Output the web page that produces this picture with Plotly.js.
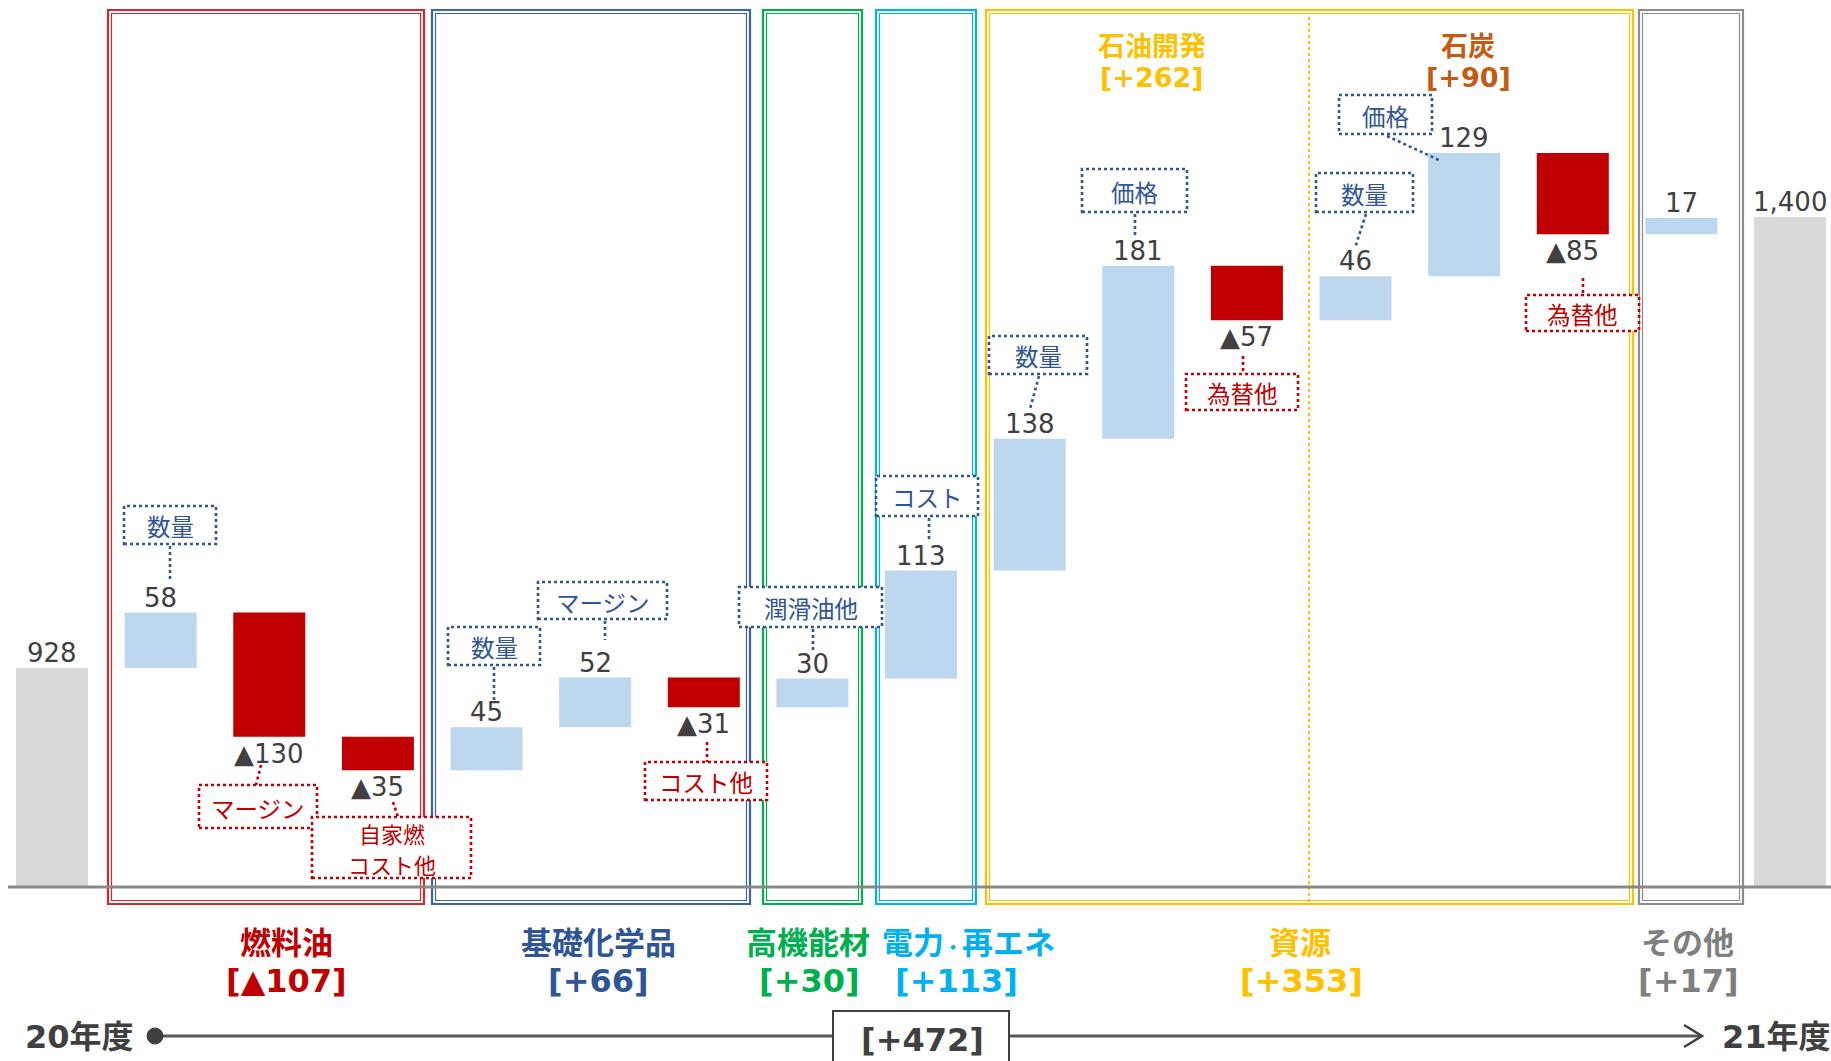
<!DOCTYPE html>
<html><head><meta charset="utf-8">
<script src="https://cdn.plot.ly/plotly-3.0.1.min.js"></script>
<style>html,body{margin:0;padding:0;background:#fff;overflow:hidden}</style>
</head><body><div id="chart" style="width:1831px;height:1061px"></div>
<script>
// ---------------- data ----------------
const categories = ['20年度','燃料油 数量','燃料油 マージン','燃料油 自家燃コスト他',
  '基礎化学品 数量','基礎化学品 マージン','基礎化学品 コスト他','高機能材 潤滑油他',
  '電力・再エネ コスト','石油開発 数量','石油開発 価格','石油開発 為替他',
  '石炭 数量','石炭 価格','石炭 為替他','その他','21年度'];
const measures = ['absolute','relative','relative','relative','relative','relative','relative','relative',
  'relative','relative','relative','relative','relative','relative','relative','relative','absolute'];
const values = [928, 58, -130, -35, 45, 52, -31, 30, 113, 138, 181, -57, 46, 129, -85, 17, 1400];
const driverLabels = ['数量','マージン',['自家燃','コスト他'],'数量','マージン','コスト他','潤滑油他',
  'コスト','数量','価格','為替他','数量','価格','為替他'];
const segmentNames = ['燃料油','基礎化学品','高機能材','電力・再エネ','資源','その他'];
const segmentTotals = ['[▲107]','[+66]','[+30]','[+113]','[+353]','[+17]'];
const subSegmentNames = ['石油開発','石炭'];
const subSegmentTotals = ['[+262]','[+90]'];
const startLabel = '20年度', endLabel = '21年度', grandTotal = '[+472]';

// ---------------- layout helpers (pixel placement) ----------------
const W = 1831, H = 1061, PB = 887;
const px = x => x / W;
const py = y => (PB - y) / PB;
const CJK = 'Noto Sans CJK JP';
const NUM = 'DejaVu Sans, Noto Sans CJK JP';
const BLUE = '#2F5597', RED = '#C00000';

const trace = {
  type: 'waterfall', x: categories, y: values, measure: measures,
  increasing: {marker: {color: '#BDD7EE'}},
  decreasing: {marker: {color: '#C00000'}},
  totals: {marker: {color: '#D9D9D9'}},
  connector: {visible: false},
  hoverinfo: 'skip'
};

const shapes = [];
const annotations = [];

// value labels, anchored to bar ends in data coordinates
let cum = 0;
values.forEach((v, i) => {
  let end, up;
  if (measures[i] === 'absolute') { cum = v; end = v; up = true; }
  else { cum += v; end = cum; up = v >= 0; }
  const txt = v < 0 ? '▲' + Math.abs(v) : v.toLocaleString('en-US');
  annotations.push({text: txt, x: categories[i], y: end, xref: 'x', yref: 'y',
    xanchor: 'center', yanchor: 'middle', yshift: up ? 15 : -17, showarrow: false,
    font: {family: NUM, size: 26, color: '#404040'}});
});

// group frames (double lines)
const frames = [
  {x0:107, x1:425, c:'#D8262C'},
  {x0:431, x1:751, c:'#3C63A6'},
  {x0:762, x1:863, c:'#00B050'},
  {x0:875, x1:977, c:'#00B0F0'},
  {x0:985, x1:1634, c:'#FFC000'},
  {x0:1638, x1:1744, c:'#8C8C8C'}
];
const FY0 = 9, FY1 = 905;
frames.forEach(f => {
  shapes.push({type:'rect', xref:'paper', yref:'paper', x0:px(f.x0+1), x1:px(f.x1-1), y0:py(FY1-1), y1:py(FY0+1),
    line:{color:f.c, width:2.2}, fillcolor:'rgba(0,0,0,0)'});
  shapes.push({type:'rect', xref:'paper', yref:'paper', x0:px(f.x0+4.5), x1:px(f.x1-4.5), y0:py(FY1-4.5), y1:py(FY0+4.5),
    line:{color:f.c, width:1.2}, fillcolor:'rgba(0,0,0,0)'});
});
// divider inside 資源
shapes.push({type:'line', xref:'paper', yref:'paper', x0:px(1309), x1:px(1309), y0:py(902), y1:py(13),
  line:{color:'#FFC000', width:2, dash:'dot'}});
// baseline
shapes.push({type:'line', xref:'paper', yref:'paper', x0:px(8), x1:px(1831), y0:py(887), y1:py(887),
  line:{color:'#898989', width:3}});

// driver callouts
const callouts = [
  {i:1,  box:[124,506,216,544],  ln:[170,546,170,580]},
  {i:2,  box:[199,785,317,828],  ln:[261,765,256,785]},
  {i:3,  box:[312,817,471,878],  ln:[393,802,398,817]},
  {i:4,  box:[448,627,540,665],  ln:[494,667,494,702]},
  {i:5,  box:[538,582,667,619],  ln:[605,621,605,640]},
  {i:6,  box:[645,762,767,800],  ln:[707,742,707,762]},
  {i:7,  box:[739,587,882,627],  ln:[813,629,813,650]},
  {i:8,  box:[876,476,978,516],  ln:[929,518,929,540]},
  {i:9,  box:[989,336,1087,374], ln:[1039,376,1030,409]},
  {i:10, box:[1082,169,1187,212],ln:[1135,214,1135,237]},
  {i:11, box:[1186,374,1298,410],ln:[1243,356,1243,374]},
  {i:12, box:[1316,173,1413,212],ln:[1366,214,1355,248]},
  {i:13, box:[1339,95,1432,134], ln:[1387,136,1441,161]},
  {i:14, box:[1526,295,1639,331],ln:[1583,278,1583,295]}
];
callouts.forEach(c => {
  const col = values[c.i] < 0 ? RED : BLUE;
  const [x0,y0,x1,y1] = c.box;
  shapes.push({type:'rect', xref:'paper', yref:'paper', x0:px(x0), x1:px(x1), y0:py(y1), y1:py(y0),
    line:{color:col, width:2.6, dash:'dot'}, fillcolor:'#FFFFFF'});
  shapes.push({type:'line', xref:'paper', yref:'paper', x0:px(c.ln[0]), y0:py(c.ln[1]), x1:px(c.ln[2]), y1:py(c.ln[3]),
    line:{color:col, width:2.6, dash:'dot'}});
  const lab = driverLabels[c.i-1];
  const lines = Array.isArray(lab) ? lab : [lab];
  const multi = lines.length > 1;
  const mid = (y0+y1)/2 + 1, step = 31;
  lines.forEach((t, k) => {
    annotations.push({text: t, x:px((x0+x1)/2), y:py(mid + (k - (lines.length-1)/2)*step), xref:'paper', yref:'paper',
      xanchor:'center', yanchor:'middle', showarrow:false, borderpad:0,
      font:{family:CJK, size: multi ? 22 : 23.5, color:col}});
  });
});

// segment labels
const segColors = ['#C00000','#2F5597','#00B050','#00B0F0','#FFC000','#7F7F7F'];
const segX1 = [286, 598, 808, 968, 1300, 1687];
const segX2 = [286, 598, 809, 956, 1301, 1688];
segmentNames.forEach((n, k) => {
  const t = n.replace('・', '<span style="font-size:18px">・</span>');
  annotations.push({text:'<b>'+t+'</b>', x:px(segX1[k]), y:py(940), xref:'paper', yref:'paper', xanchor:'center', yanchor:'middle',
    showarrow:false, font:{family:CJK, size:31, color:segColors[k]}});
  annotations.push({text:'<b>'+segmentTotals[k]+'</b>', x:px(segX2[k]), y:py(981), xref:'paper', yref:'paper', xanchor:'center', yanchor:'middle',
    showarrow:false, font:{family:NUM, size:32, color:segColors[k]}});
});
const subColors = ['#FFC000','#C55A11'];
const subX = [1152, 1468];
subSegmentNames.forEach((n, k) => {
  annotations.push({text:'<b>'+n+'</b>', x:px(subX[k]), y:py(44), xref:'paper', yref:'paper', xanchor:'center', yanchor:'middle',
    showarrow:false, font:{family:CJK, size:27, color:subColors[k]}});
  annotations.push({text:'<b>'+subSegmentTotals[k]+'</b>', x:px(subX[k]), y:py(77), xref:'paper', yref:'paper', xanchor:'center', yanchor:'middle',
    showarrow:false, font:{family:NUM, size:27, color:subColors[k]}});
});

// timeline
const TY = 1036;
shapes.push({type:'line', xref:'paper', yref:'paper', x0:px(155), x1:px(1702), y0:py(TY), y1:py(TY), line:{color:'#595959', width:3}});
shapes.push({type:'circle', xref:'paper', yref:'paper', x0:px(147), x1:px(163), y0:py(TY+8), y1:py(TY-8), line:{color:'#404040', width:1}, fillcolor:'#404040'});
shapes.push({type:'path', xref:'paper', yref:'paper',
  path:`M${px(1684)},${py(TY-11)} L${px(1702)},${py(TY)} L${px(1684)},${py(TY+11)}`,
  line:{color:'#404040', width:2.5}});
shapes.push({type:'rect', xref:'paper', yref:'paper', x0:px(833), x1:px(1009), y0:py(1080), y1:py(1011),
  line:{color:'#404040', width:2}, fillcolor:'#FFFFFF'});
annotations.push({text:'<b>'+startLabel+'</b>', x:px(79), y:py(TY+1), xref:'paper', yref:'paper', xanchor:'center', yanchor:'middle',
  showarrow:false, font:{family:NUM, size:32, color:'#404040'}});
annotations.push({text:'<b>'+endLabel+'</b>', x:px(1776), y:py(TY+1), xref:'paper', yref:'paper', xanchor:'center', yanchor:'middle',
  showarrow:false, font:{family:NUM, size:32, color:'#404040'}});
annotations.push({text:'<b>'+grandTotal+'</b>', x:px(922), y:py(1040), xref:'paper', yref:'paper', xanchor:'center', yanchor:'middle',
  showarrow:false, font:{family:NUM, size:32, color:'#404040'}});

const layout = {
  width: W, height: H,
  margin: {l:0, r:0, t:0, b:H-PB, pad:0},
  paper_bgcolor: '#FFFFFF', plot_bgcolor: '#FFFFFF',
  showlegend: false, hovermode: false,
  waterfallgap: 0.337,
  xaxis: {type:'category', range:[-0.479, 16.377], showticklabels:false, showgrid:false, zeroline:false, showline:false, ticks:'', fixedrange:true},
  yaxis: {range:[698.8, 1627.1], showticklabels:false, showgrid:false, zeroline:false, showline:false, ticks:'', fixedrange:true},
  shapes: shapes, annotations: annotations
};
Plotly.newPlot('chart', [trace], layout, {displayModeBar:false, staticPlot:true});
</script></body></html>
